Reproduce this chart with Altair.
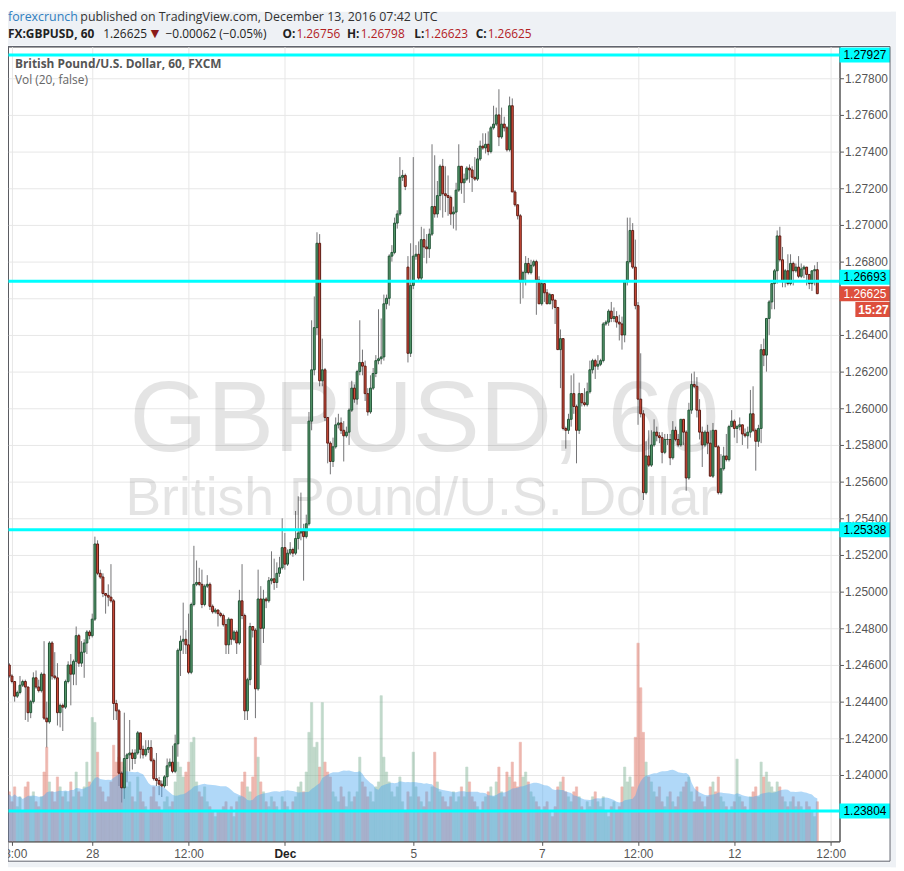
import altair as alt
import pandas as pd

# ---------------- data (hourly GBPUSD candles, FXCM) ----------------
open_ = [
1.2448,1.2460,1.2454,1.2451,1.2443,1.2445,1.2449,1.2451,1.2448,1.2434,
1.2440,1.2453,1.2448,1.2446,1.2455,1.2431,1.2429,1.2472,1.2454,1.2453,
1.2434,1.2438,1.2437,1.2451,1.2460,1.2455,1.2462,1.2476,1.2461,1.2467,
1.2472,1.2478,1.2476,1.2485,1.2526,1.2510,1.2508,1.2499,1.2498,1.2497,
1.2495,1.2439,1.2435,1.2401,1.2393,1.2409,1.2411,1.2412,1.2409,1.2412,
1.2423,1.2414,1.2411,1.2414,1.2415,1.2408,1.2398,1.2397,1.2395,1.2394,
1.2399,1.2405,1.2407,1.2402,1.2417,1.2468,1.2473,1.2474,1.2471,1.2456,
1.2493,1.2504,1.2505,1.2504,1.2493,1.2503,1.2504,1.2492,1.2489,1.2490,
1.2488,1.2487,1.2482,1.2471,1.2485,1.2474,1.2478,1.2472,1.2495,1.2487,
1.2435,1.2452,1.2481,1.2479,1.2447,1.2496,1.2480,1.2496,1.2495,1.2506,
1.2507,1.2505,1.2510,1.2513,1.2524,1.2515,1.2521,1.2523,1.2521,1.2529,
1.2532,1.2533,1.2530,1.2537,1.2593,1.2621,1.2644,1.2690,1.2615,1.2621,
1.2595,1.2581,1.2571,1.2579,1.2591,1.2592,1.2588,1.2585,1.2587,1.2599,
1.2611,1.2605,1.2620,1.2625,1.2623,1.2608,1.2598,1.2611,1.2619,1.2626,
1.2627,1.2628,1.2657,1.2660,1.2683,1.2685,1.2701,1.2706,1.2726,1.2727,
1.2677,1.2630,1.2667,1.2683,1.2684,1.2671,1.2692,1.2688,1.2687,1.2695,
1.2710,1.2706,1.2716,1.2732,1.2717,1.2716,1.2715,1.2706,1.2707,1.2719,
1.2732,1.2723,1.2725,1.2731,1.2730,1.2726,1.2725,1.2736,1.2743,1.2742,
1.2744,1.2740,1.2753,1.2755,1.2760,1.2748,1.2755,1.2753,1.2741,1.2765,
1.2718,1.2711,1.2705,1.2669,1.2674,1.2679,1.2674,1.2678,1.2680,1.2670,
1.2657,1.2668,1.2663,1.2657,1.2662,1.2659,1.2655,1.2632,1.2638,1.2589,
1.2588,1.2594,1.2608,1.2601,1.2588,1.2608,1.2603,1.2602,1.2609,1.2621,
1.2626,1.2623,1.2624,1.2626,1.2646,1.2647,1.2653,1.2649,1.2650,1.2647,
1.2646,1.2640,1.2669,1.2680,1.2697,1.2677,1.2656,1.2605,1.2597,1.2554,
1.2574,1.2569,1.2580,1.2587,1.2585,1.2584,1.2576,1.2583,1.2583,1.2573,
1.2588,1.2583,1.2580,1.2594,1.2587,1.2562,1.2599,1.2613,1.2612,1.2599,
1.2587,1.2580,1.2587,1.2581,1.2563,1.2588,1.2579,1.2554,1.2567,1.2574,
1.2572,1.2590,1.2593,1.2589,1.2590,1.2591,1.2586,1.2585,1.2587,1.2597,
1.2588,1.2582,1.2589,1.2632,1.2629,1.2649,1.2658,1.2668,1.2675,1.2694,
1.2681,1.2669,1.2675,1.2668,1.2679,1.2675,1.2677,1.2672,1.2676,1.2677,
1.2673,1.2668,1.2675,1.26756]

high = [
1.2461,1.2461,1.2455,1.2451,1.2446,1.2454,1.2452,1.2452,1.2448,1.2441,
1.2456,1.2457,1.2452,1.2456,1.2473,1.2440,1.2473,1.2473,1.2467,1.2461,
1.2439,1.2439,1.2452,1.2462,1.2466,1.2463,1.2481,1.2477,1.2473,1.2474,
1.2479,1.2479,1.2488,1.2530,1.2528,1.2512,1.2510,1.2499,1.2504,1.2515,
1.2496,1.2441,1.2436,1.2402,1.2434,1.2412,1.2430,1.2414,1.2414,1.2424,
1.2423,1.2416,1.2419,1.2419,1.2419,1.2409,1.2412,1.2399,1.2397,1.2400,
1.2409,1.2409,1.2416,1.2422,1.2469,1.2476,1.2494,1.2479,1.2488,1.2494,
1.2525,1.2517,1.2513,1.2512,1.2504,1.2509,1.2505,1.2493,1.2491,1.2490,
1.2489,1.2488,1.2485,1.2486,1.2485,1.2479,1.2479,1.2501,1.2515,1.2488,
1.2453,1.2483,1.2481,1.2480,1.2512,1.2503,1.2501,1.2497,1.2508,1.2522,
1.2518,1.2516,1.2519,1.2540,1.2532,1.2523,1.2527,1.2524,1.2544,1.2552,
1.2554,1.2537,1.2542,1.2598,1.2648,1.2661,1.2696,1.2695,1.2638,1.2622,
1.2595,1.2582,1.2584,1.2595,1.2597,1.2595,1.2593,1.2590,1.2600,1.2615,
1.2613,1.2621,1.2648,1.2632,1.2626,1.2611,1.2618,1.2622,1.2629,1.2654,
1.2649,1.2662,1.2662,1.2684,1.2689,1.2704,1.2708,1.2737,1.2730,1.2728,
1.2683,1.2690,1.2737,1.2689,1.2691,1.2699,1.2698,1.2695,1.2698,1.2744,
1.2738,1.2724,1.2733,1.2736,1.2732,1.2727,1.2716,1.2710,1.2723,1.2744,
1.2732,1.2728,1.2732,1.2733,1.2732,1.2737,1.2742,1.2746,1.2750,1.2750,
1.2751,1.2754,1.2765,1.2764,1.2774,1.2764,1.2759,1.2754,1.2770,1.2769,
1.2719,1.2711,1.2706,1.2675,1.2683,1.2682,1.2681,1.2681,1.2681,1.2672,
1.2670,1.2668,1.2665,1.2663,1.2662,1.2659,1.2655,1.2643,1.2638,1.2590,
1.2597,1.2618,1.2619,1.2602,1.2614,1.2608,1.2611,1.2614,1.2626,1.2627,
1.2627,1.2629,1.2627,1.2647,1.2648,1.2654,1.2658,1.2655,1.2653,1.2651,
1.2650,1.2670,1.2704,1.2704,1.2701,1.2692,1.2658,1.2630,1.2599,1.2582,
1.2588,1.2588,1.2594,1.2590,1.2587,1.2587,1.2586,1.2586,1.2586,1.2593,
1.2590,1.2586,1.2594,1.2594,1.2588,1.2603,1.2619,1.2620,1.2617,1.2605,
1.2590,1.2588,1.2591,1.2588,1.2592,1.2588,1.2580,1.2575,1.2579,1.2586,
1.2591,1.2599,1.2594,1.2591,1.2595,1.2591,1.2589,1.2590,1.2610,1.2612,
1.2589,1.2591,1.2635,1.2638,1.2649,1.2659,1.2668,1.2676,1.2697,1.2699,
1.2688,1.2676,1.2684,1.2684,1.2680,1.2679,1.2683,1.2679,1.2678,1.2677,
1.2673,1.2675,1.2678,1.26798]

low = [
1.2442,1.2453,1.2450,1.2440,1.2442,1.2444,1.2448,1.2430,1.2429,1.2431,
1.2439,1.2447,1.2445,1.2445,1.2430,1.2415,1.2428,1.2452,1.2452,1.2427,
1.2426,1.2424,1.2436,1.2450,1.2438,1.2449,1.2449,1.2459,1.2459,1.2453,
1.2466,1.2474,1.2475,1.2484,1.2509,1.2507,1.2497,1.2488,1.2492,1.2494,
1.2430,1.2430,1.2394,1.2385,1.2387,1.2396,1.2402,1.2403,1.2406,1.2411,
1.2409,1.2409,1.2410,1.2412,1.2407,1.2397,1.2394,1.2389,1.2388,1.2393,
1.2394,1.2404,1.2401,1.2401,1.2410,1.2454,1.2466,1.2466,1.2455,1.2455,
1.2492,1.2503,1.2503,1.2491,1.2492,1.2502,1.2490,1.2488,1.2488,1.2481,
1.2486,1.2481,1.2466,1.2466,1.2471,1.2473,1.2466,1.2471,1.2485,1.2430,
1.2430,1.2449,1.2475,1.2431,1.2446,1.2460,1.2472,1.2491,1.2494,1.2504,
1.2501,1.2502,1.2508,1.2512,1.2512,1.2514,1.2520,1.2519,1.2520,1.2523,
1.2528,1.2506,1.2529,1.2536,1.2588,1.2618,1.2640,1.2612,1.2612,1.2593,
1.2570,1.2564,1.2568,1.2578,1.2589,1.2586,1.2571,1.2584,1.2580,1.2598,
1.2603,1.2602,1.2618,1.2618,1.2604,1.2596,1.2597,1.2610,1.2617,1.2624,
1.2624,1.2626,1.2654,1.2656,1.2680,1.2684,1.2698,1.2705,1.2724,1.2719,
1.2625,1.2628,1.2665,1.2681,1.2669,1.2669,1.2682,1.2679,1.2682,1.2694,
1.2704,1.2704,1.2708,1.2704,1.2707,1.2705,1.2700,1.2698,1.2697,1.2718,
1.2717,1.2712,1.2724,1.2723,1.2718,1.2724,1.2724,1.2735,1.2741,1.2739,
1.2738,1.2739,1.2752,1.2754,1.2743,1.2747,1.2751,1.2740,1.2740,1.2718,
1.2710,1.2703,1.2657,1.2660,1.2667,1.2673,1.2673,1.2677,1.2651,1.2657,
1.2656,1.2658,1.2657,1.2657,1.2654,1.2646,1.2632,1.2611,1.2588,1.2578,
1.2586,1.2590,1.2597,1.2570,1.2586,1.2601,1.2601,1.2601,1.2608,1.2619,
1.2616,1.2621,1.2623,1.2625,1.2645,1.2645,1.2647,1.2647,1.2644,1.2637,
1.2632,1.2636,1.2667,1.2679,1.2676,1.2654,1.2591,1.2595,1.2550,1.2553,
1.2568,1.2568,1.2579,1.2582,1.2581,1.2570,1.2575,1.2580,1.2569,1.2572,
1.2582,1.2579,1.2579,1.2580,1.2555,1.2561,1.2597,1.2611,1.2595,1.2583,
1.2568,1.2579,1.2575,1.2563,1.2562,1.2579,1.2553,1.2553,1.2566,1.2571,
1.2571,1.2590,1.2584,1.2581,1.2588,1.2580,1.2584,1.2578,1.2584,1.2587,
1.2566,1.2579,1.2581,1.2623,1.2620,1.2640,1.2654,1.2654,1.2668,1.2680,
1.2666,1.2666,1.2667,1.2667,1.2667,1.2674,1.2671,1.2671,1.2671,1.2667,
1.2665,1.2664,1.2667,1.26623]

close = [
1.2460,1.2454,1.2451,1.2443,1.2445,1.2449,1.2451,1.2448,1.2434,1.2440,
1.2453,1.2448,1.2446,1.2455,1.2431,1.2429,1.2472,1.2454,1.2453,1.2434,
1.2438,1.2437,1.2451,1.2460,1.2455,1.2462,1.2476,1.2461,1.2467,1.2472,
1.2478,1.2476,1.2485,1.2526,1.2510,1.2508,1.2499,1.2498,1.2497,1.2495,
1.2439,1.2435,1.2401,1.2393,1.2409,1.2411,1.2412,1.2409,1.2412,1.2423,
1.2414,1.2411,1.2414,1.2415,1.2408,1.2398,1.2397,1.2395,1.2394,1.2399,
1.2405,1.2407,1.2402,1.2417,1.2468,1.2473,1.2474,1.2471,1.2456,1.2493,
1.2504,1.2505,1.2504,1.2493,1.2503,1.2504,1.2492,1.2489,1.2490,1.2488,
1.2487,1.2482,1.2471,1.2485,1.2474,1.2478,1.2472,1.2495,1.2487,1.2435,
1.2452,1.2481,1.2479,1.2447,1.2496,1.2480,1.2496,1.2495,1.2506,1.2507,
1.2505,1.2510,1.2513,1.2524,1.2515,1.2521,1.2523,1.2521,1.2529,1.2532,
1.2533,1.2530,1.2537,1.2593,1.2621,1.2644,1.2690,1.2615,1.2621,1.2595,
1.2581,1.2571,1.2579,1.2591,1.2592,1.2588,1.2585,1.2587,1.2599,1.2611,
1.2605,1.2620,1.2625,1.2623,1.2608,1.2598,1.2611,1.2619,1.2626,1.2627,
1.2628,1.2657,1.2660,1.2683,1.2685,1.2701,1.2706,1.2726,1.2727,1.2721,
1.2630,1.2667,1.2683,1.2684,1.2671,1.2692,1.2688,1.2687,1.2695,1.2710,
1.2706,1.2716,1.2732,1.2717,1.2716,1.2715,1.2706,1.2707,1.2719,1.2732,
1.2723,1.2725,1.2731,1.2730,1.2726,1.2725,1.2736,1.2743,1.2742,1.2744,
1.2740,1.2753,1.2755,1.2760,1.2748,1.2755,1.2753,1.2741,1.2765,1.2718,
1.2711,1.2705,1.2669,1.2674,1.2679,1.2674,1.2678,1.2680,1.2670,1.2657,
1.2668,1.2663,1.2657,1.2662,1.2659,1.2655,1.2632,1.2638,1.2589,1.2588,
1.2594,1.2608,1.2601,1.2588,1.2608,1.2603,1.2602,1.2609,1.2621,1.2626,
1.2623,1.2624,1.2626,1.2646,1.2647,1.2653,1.2649,1.2650,1.2647,1.2646,
1.2640,1.2669,1.2680,1.2697,1.2677,1.2656,1.2605,1.2597,1.2554,1.2574,
1.2569,1.2580,1.2587,1.2585,1.2584,1.2576,1.2583,1.2583,1.2573,1.2588,
1.2583,1.2580,1.2594,1.2587,1.2562,1.2599,1.2613,1.2612,1.2599,1.2587,
1.2580,1.2587,1.2581,1.2563,1.2588,1.2579,1.2554,1.2567,1.2574,1.2572,
1.2590,1.2593,1.2589,1.2590,1.2591,1.2586,1.2585,1.2587,1.2597,1.2588,
1.2582,1.2589,1.2632,1.2629,1.2649,1.2658,1.2668,1.2675,1.2694,1.2681,
1.2669,1.2675,1.2668,1.2679,1.2675,1.2677,1.2672,1.2676,1.2677,1.2673,
1.2668,1.2675,1.26756,1.26625]

volume = [
45,50,40,55,35,45,30,55,60,45,
50,40,35,45,70,95,60,50,40,65,
55,45,50,40,60,45,70,50,45,55,
80,60,125,120,90,55,50,40,45,60,
97,80,85,80,75,55,60,45,40,65,
50,40,35,30,45,55,40,35,30,40,
45,35,40,60,80,75,65,70,80,100,
105,60,50,45,55,40,35,30,25,30,
30,35,40,30,35,25,40,45,60,70,
55,50,65,105,85,60,50,40,35,45,
40,35,30,45,40,35,30,40,45,55,
60,50,70,110,140,95,100,75,140,80,
70,65,50,45,40,55,45,35,50,40,
45,50,85,60,55,45,50,40,55,60,
147,85,70,60,50,45,55,65,40,30,
50,45,90,55,45,40,35,50,40,55,
90,60,50,45,40,35,45,50,40,45,
55,45,75,60,45,40,35,30,40,45,
50,55,45,60,75,50,45,70,65,80,
60,55,100,65,70,60,50,45,40,35,
30,35,40,30,25,35,55,60,65,50,
45,40,50,55,45,35,30,40,35,45,
50,40,35,45,30,25,35,40,30,35,
55,75,60,65,55,105,200,155,110,80,
65,60,50,45,55,40,35,45,50,40,
35,45,50,55,60,65,50,40,55,45,
40,35,45,55,60,50,65,45,40,35,
30,35,40,83,45,40,35,30,45,50,
55,45,80,65,70,60,55,50,60,55,
45,40,35,40,45,35,40,35,30,40,
35,30,25,40]

# time axis: bar index -> label (weekend hours skipped)
tick_index = [2, 32, 68, 104, 152, 200, 236, 272, 308]
tick_label = ["18:00", "28", "12:00", "Dec", "5", "7", "12:00", "12", "12:00"]
price_ticks = [round(1.240 + 0.002 * k, 3) for k in range(20)]
level_prices = [1.27927, 1.25338, 1.23804]
level_near_last = 1.26693
last_price = 1.26625
countdown = "15:27"

# ---------------- layout / styles ----------------
W, H = 839, 802
Y_MIN, Y_MAX = 1.23638, 1.27973
UP_FILL, UP_LINE = "#579c6e", "#225437"
DN_FILL, DN_LINE = "#d9503d", "#5b1a13"
WICK = "#737375"
CYAN = "#00ffff"
BG = "#eef1f5"
AX = "#555555"

X_SCALE = alt.Scale(domain=[0.52, 311.3], nice=False, zero=False)
Y_SCALE = alt.Scale(domain=[Y_MIN, Y_MAX], nice=False, zero=False)
VOL_K = (Y_MAX - Y_MIN) / H   # 1 volume unit = 1 px of the pane

n = min(len(open_), len(high), len(low), len(close), len(volume))
df = pd.DataFrame({
    "i": list(range(n)),
    "open": open_[:n], "high": high[:n], "low": low[:n], "close": close[:n],
    "vol": volume[:n],
})
df["high"] = df[["high", "open", "close"]].max(axis=1)
df["low"] = df[["low", "open", "close"]].min(axis=1)
df["up"] = df["close"] >= df["open"]
df["x0"] = df["i"] - 0.36
df["x1"] = df["i"] + 0.36
df["v0"] = df["i"] - 0.42
df["v1"] = df["i"] + 0.42

expr = ""
for v, l in zip(tick_index, tick_label):
    expr += f"datum.value == {v} ? '{l}' : "
expr += "''"

# the 1.26600 tick label sits under the current-price tag, as in the original
y_label_expr = f"abs(datum.value - {last_price}) < 0.0005 ? '' : format(datum.value, '.5f')"

x_axis = alt.Axis(
    values=tick_index, labelExpr=expr, title=None, grid=True, gridColor="#e7e7e7",
    tickSize=4, tickColor=AX, domainColor=AX, labelFont="Liberation Sans",
    labelFontSize=12, labelPadding=3, labelOverlap=False, labelBound=False,
    labelFlush=False,
    labelColor={"condition": {"test": "datum.value == 104", "value": "#222222"}, "value": "#555555"},
    labelFontWeight={"condition": {"test": "datum.value == 104", "value": "bold"}, "value": "normal"},
)
y_axis = alt.Axis(
    orient="right", values=price_ticks, labelExpr=y_label_expr, title=None, grid=True,
    gridColor="#e7e7e7", tickSize=4, tickColor=AX, domainColor=AX,
    labelColor="#555555", labelFont="Liberation Sans", labelFontSize=12,
    labelPadding=1, labelOverlap=False, labelBound=False, labelFlush=False,
)

def X(f):
    return alt.X(f, scale=X_SCALE, axis=x_axis)

def Y(f):
    return alt.Y(f, scale=Y_SCALE, axis=y_axis)

one = pd.DataFrame({"k": [0]})
cond_fill = alt.condition("datum.up", alt.value(UP_FILL), alt.value(DN_FILL))
cond_line = alt.condition("datum.up", alt.value(UP_LINE), alt.value(DN_LINE))
cond_vol = alt.condition("datum.up", alt.value("#6ba583"), alt.value("#d75442"))

# ---------------- candles ----------------
wicks = alt.Chart(df).mark_rule(color=WICK, strokeWidth=1, clip=True).encode(
    x=X("i:Q"), y=Y("low:Q"), y2="high:Q")
bodies = alt.Chart(df).mark_rect(strokeWidth=1, clip=True).encode(
    x=X("x0:Q"), x2="x1:Q", y=Y("open:Q"), y2="close:Q",
    fill=cond_fill, stroke=cond_line)

# ---------------- volume pane (overlaid at the bottom) ----------------
vol_bars = alt.Chart(df).transform_calculate(
    vtop=f"{Y_MIN} + datum.vol * {VOL_K}", vbase=f"{Y_MIN}"
).mark_rect(clip=True, opacity=0.42, strokeWidth=0.6).encode(
    x=X("v0:Q"), x2="v1:Q", y=Y("vtop:Q"), y2="vbase:Q",
    fill=cond_vol, stroke=cond_vol)
vol_ma = alt.Chart(df).transform_window(
    ma="mean(vol)", frame=[-19, 0], sort=[alt.SortField("i")]
).transform_calculate(
    mtop=f"{Y_MIN} + datum.ma * {VOL_K}", mbase=f"{Y_MIN}"
).mark_area(clip=True, color="#4fa8ef", opacity=0.45).encode(
    x=X("i:Q"), y=Y("mtop:Q"), y2="mbase:Q")

# ---------------- decorations ----------------
def band(x0, x1, y0, y1):
    return alt.Chart(one).mark_rect(color=BG).encode(
        x=alt.value(x0), x2=alt.value(x1), y=alt.value(y0), y2=alt.value(y1))

bands = [band(0, 896, -35, -1), band(891, 896, -35, 828), band(0, 896, 823, 828)]

def txt(s, x, y, size=12, color="#333333", weight="normal", font="Open Sans",
        align="left", baseline="middle", opacity=1.0):
    return alt.Chart(one).mark_text(
        text=s, fontSize=size, color=color, fontWeight=weight, font=font,
        align=align, baseline=baseline, opacity=opacity,
    ).encode(x=alt.value(x), y=alt.value(y))

watermark = [
    txt("GBPUSD, 60", 420, 408, size=101, color="#000000", font="Liberation Sans",
        align="center", baseline="alphabetic", opacity=0.1),
    txt("British Pound/U.S. Dollar", 417, 473, size=54, color="#000000",
        font="Liberation Sans", align="center", baseline="alphabetic", opacity=0.1),
]

lv = pd.DataFrame({"price": level_prices + [level_near_last]})
lv["label"] = [f"{p:.5f}" for p in lv["price"]]
lines = alt.Chart(lv).mark_rule(color=CYAN, strokeWidth=3).encode(
    x=alt.value(0), x2=alt.value(W), y=Y("price:Q"))

def boxes(data, color, x0, x1, yoff=0):
    return alt.Chart(data).transform_calculate(
        lo="datum.price - 0.00041", hi="datum.price + 0.00041"
    ).mark_rect(color=color, yOffset=yoff, y2Offset=yoff).encode(
        x=alt.value(x0), x2=alt.value(x1), y=Y("lo:Q"), y2="hi:Q")

def box_text(data, color, x, yoff=0, weight="normal", field="label"):
    return alt.Chart(data).mark_text(
        align="left", baseline="middle", font="Liberation Sans", fontSize=12,
        color=color, dy=yoff, fontWeight=weight,
    ).encode(x=alt.value(x), y=Y("price:Q"), text=f"{field}:N")

lv_main = lv[lv["price"] != level_near_last]
lv_near = lv[lv["price"] == level_near_last]
lp = pd.DataFrame({"price": [last_price], "label": [f"{last_price:.5f}"], "cd": [countdown]})

level_marks = [
    boxes(lv_main, CYAN, W, W + 51), box_text(lv_main, "#000000", W + 4),
    boxes(lv_near, CYAN, W, W + 51, -4), box_text(lv_near, "#000000", W + 4, -4),
    boxes(lp, "#dd4f3d", W, W + 51), box_text(lp, "#ffffff", W + 4),
    boxes(lp, "#dd4f3d", W + 16, W + 51, 16),
    box_text(lp, "#ffffff", W + 19, 16, weight="bold", field="cd"),
]

header = [
    txt("forexcrunch", 0, -30, size=12.5, color="#2f7fc0"),
    txt("published on TradingView.com, December 13, 2016 07:42 UTC", 73, -30, size=12.5),
    txt("FX:GBPUSD, 60", 0, -13, weight="bold", color="#222222"),
    txt("1.26625", 96, -13, color="#222222"),
    txt("▼", 144, -13, size=11, color="#8b1b1b", font="DejaVu Sans"),
    txt("−0.00062 (−0.05%)", 159, -13, color="#222222"),
    txt("O:", 277, -13, weight="bold", color="#222222"),
    txt("1.26756", 291, -13, color="#b3201f"),
    txt("H:", 342, -13, weight="bold", color="#222222"),
    txt("1.26798", 356, -13, color="#b3201f"),
    txt("L:", 410, -13, weight="bold", color="#222222"),
    txt("1.26623", 420, -13, color="#b3201f"),
    txt("C:", 472, -13, weight="bold", color="#222222"),
    txt("1.26625", 484, -13, color="#b3201f"),
    txt("British Pound/U.S. Dollar, 60, FXCM", 7, 18, weight="bold", color="#555555"),
    txt("Vol (20, false)", 7, 34, color="#666666"),
]

frame = alt.Chart(one).mark_rect(filled=False, stroke="#5d606b", strokeWidth=1).encode(
    x=alt.value(0), x2=alt.value(890), y=alt.value(0), y2=alt.value(822))

chart = alt.layer(
    wicks, *bands, *watermark, vol_bars, vol_ma, bodies, lines,
    *level_marks, *header, frame,
).properties(
    width=W, height=H,
    autosize=alt.AutoSizeParams(type="none"),
    padding={"left": 0, "top": 35, "right": 57, "bottom": 26},
    background="white",
).configure_view(stroke=AX, strokeWidth=1, fill="white")

chart.save("out.html", embed_options={"renderer": "svg", "actions": False})
